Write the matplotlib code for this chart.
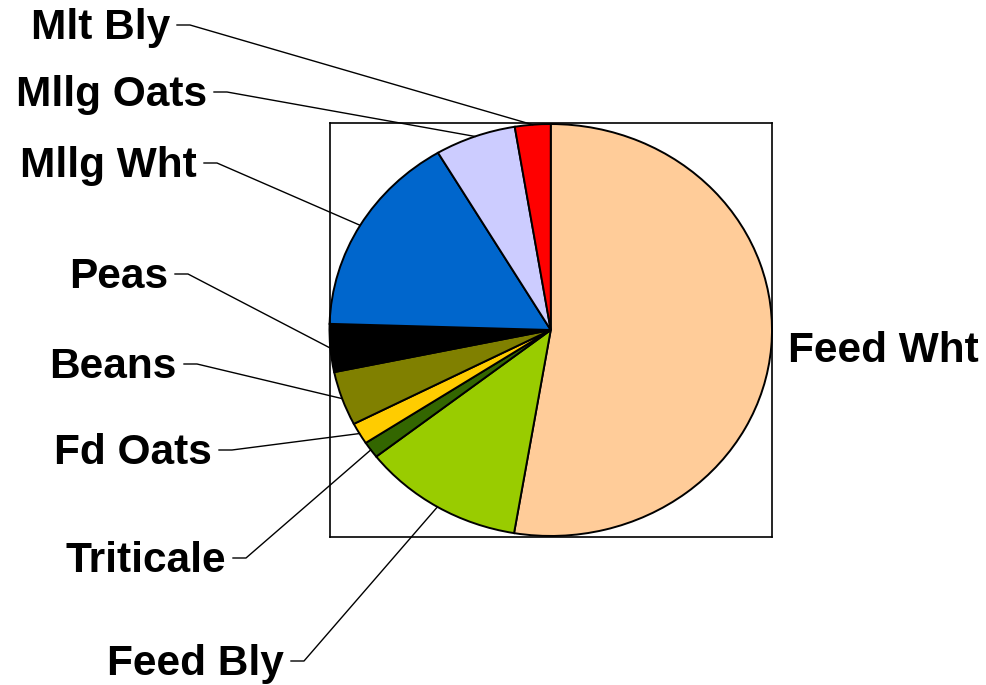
import matplotlib
matplotlib.use("Agg")
import matplotlib.pyplot as plt
import numpy as np
from matplotlib.lines import Line2D

# crop shares (percent), clockwise from 12 o'clock
crops = ["Feed Wht", "Feed Bly", "Triticale", "Fd Oats", "Beans",
         "Peas", "Mllg Wht", "Mllg Oats", "Mlt Bly"]
shares = [52.6, 11.8, 1.3, 1.7, 4.25, 3.75, 16.0, 5.9, 2.6]
colors = ["#FFCC99", "#99CC00", "#336600", "#FFCC00", "#808000",
          "#000000", "#0066CC", "#CCCCFF", "#FF0000"]

# label placement in pixels from top-left: x of text edge, baseline y
label_x = [788, 284, 226, 212, 177, 168, 197, 207, 170]
label_base = [362, 675, 572, 464, 378, 288, 177, 106, 39]

W, H = 986, 685
fig = plt.figure(figsize=(W / 100, H / 100), dpi=100)
ax = fig.add_axes([329.5 / W, (H - 537) / H, 442.5 / W, 414 / H])

wedges, _ = ax.pie(shares, colors=colors, startangle=90, counterclock=False,
                   wedgeprops=dict(edgecolor="black", linewidth=1.4))
ax.set_aspect("auto")
ax.set_xlim(-1, 1)
ax.set_ylim(-1.005, 1.005)
ax.set_frame_on(True)
ax.set_xticks([])
ax.set_yticks([])
for s in ax.spines.values():
    s.set_linewidth(1.2)
    s.set_color("black")

font = dict(fontsize=30.5, fontweight="bold", family=["Liberation Sans", "DejaVu Sans"])

for i, name in enumerate(crops):
    ytop = label_base[i]
    if i == 0:
        fig.text(label_x[i] / W, 1 - ytop / H, name, ha="left", va="baseline", **font)
        continue
    fig.text(label_x[i] / W, 1 - ytop / H, name, ha="right", va="baseline", **font)
    w = wedges[i]
    mid = np.deg2rad((w.theta1 + w.theta2) / 2)
    px, py = ax.transData.transform((np.cos(mid), np.sin(mid)))
    ly = H - (ytop - 14)
    xs = [label_x[i] + 7, label_x[i] + 20, px]
    ys = [ly, ly, py]
    fig.add_artist(Line2D(np.array(xs) / W, np.array(ys) / H,
                          transform=fig.transFigure, color="black", linewidth=1.0))

fig.savefig("out.png", dpi=100)
